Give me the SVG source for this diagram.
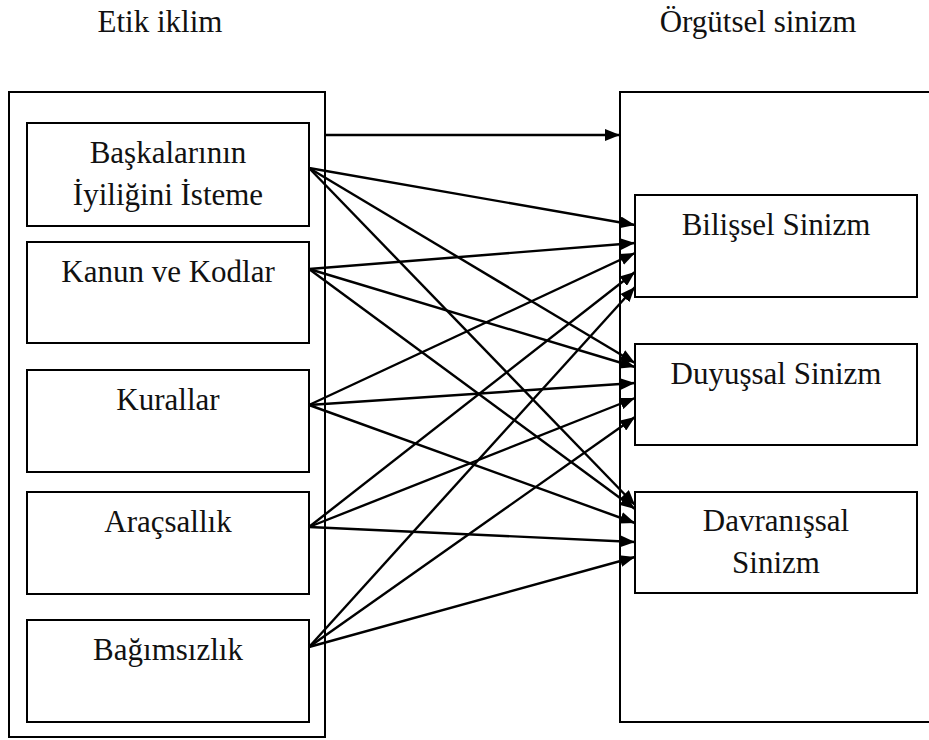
<svg xmlns="http://www.w3.org/2000/svg" width="929" height="740" viewBox="0 0 929 740">
<defs>
<marker id="ah" markerUnits="userSpaceOnUse" markerWidth="15" markerHeight="12" refX="15" refY="6" orient="auto">
<path d="M0,0 L15,6 L0,12 z" fill="#000"/>
</marker>
<style>
.box{fill:none;stroke:#000;stroke-width:2}
.c line{stroke:#000;stroke-width:2.4;marker-end:url(#ah)}
</style>
</defs>
<rect width="929" height="740" fill="#fff"/>
<g font-family="Liberation Serif" font-size="31" fill="#111" text-anchor="middle">
<text x="160" y="32">Etik iklim</text>
<text x="758" y="32">Örgütsel sinizm</text>
<g id="etik-iklim"><rect class="box" x="9" y="92" width="316" height="645"/></g>
<g id="orgutsel-sinizm"><rect class="box" x="620" y="92" width="320" height="630"/></g>
<g id="baskalarinin"><rect class="box" x="27" y="123" width="282" height="103"/>
<text x="168" y="163">Başkalarının</text><text x="168" y="205">İyiliğini İsteme</text></g>
<g id="kanun"><rect class="box" x="27" y="242" width="282" height="101"/>
<text x="168" y="282">Kanun ve Kodlar</text></g>
<g id="kurallar"><rect class="box" x="27" y="370" width="282" height="102"/>
<text x="168" y="410">Kurallar</text></g>
<g id="aracsallik"><rect class="box" x="27" y="492" width="282" height="102"/>
<text x="168" y="532">Araçsallık</text></g>
<g id="bagimsizlik"><rect class="box" x="27" y="620" width="282" height="102"/>
<text x="168" y="660">Bağımsızlık</text></g>
<g id="bilissel"><rect class="box" x="635" y="195" width="282" height="102"/>
<text x="776" y="235">Bilişsel Sinizm</text></g>
<g id="duyussal"><rect class="box" x="635" y="344" width="282" height="101"/>
<text x="776" y="384">Duyuşsal Sinizm</text></g>
<g id="davranissal"><rect class="box" x="635" y="492" width="282" height="101"/>
<text x="776" y="531">Davranışsal</text><text x="776" y="573">Sinizm</text></g>
</g>
<g class="c" id="connectors">
<line x1="325" y1="135" x2="620" y2="135"/>
<line x1="309" y1="168" x2="635" y2="225"/>
<line x1="309" y1="168" x2="635" y2="363"/>
<line x1="309" y1="168" x2="635" y2="505"/>
<line x1="309" y1="269" x2="635" y2="243"/>
<line x1="309" y1="269" x2="635" y2="367"/>
<line x1="309" y1="269" x2="635" y2="509"/>
<line x1="309" y1="405" x2="635" y2="253"/>
<line x1="309" y1="405" x2="635" y2="383"/>
<line x1="309" y1="405" x2="635" y2="523"/>
<line x1="309" y1="527" x2="635" y2="272"/>
<line x1="309" y1="527" x2="635" y2="398"/>
<line x1="309" y1="527" x2="635" y2="542"/>
<line x1="309" y1="647" x2="635" y2="287"/>
<line x1="309" y1="647" x2="635" y2="417"/>
<line x1="309" y1="647" x2="635" y2="557"/>
</g>
</svg>
